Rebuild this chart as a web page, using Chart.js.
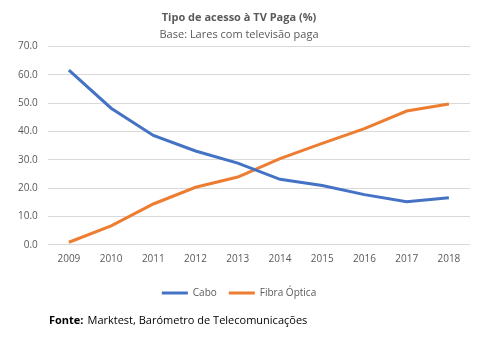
<!DOCTYPE html>
<html>
<head>
<meta charset="utf-8">
<script src="https://cdn.jsdelivr.net/npm/chart.js@4"></script>
<style>
  body { margin: 0; background: #fff; }
</style>
</head>
<body>
<canvas id="grafico" width="480" height="348"></canvas>
<script>
// dados
const anos = ["2009", "2010", "2011", "2012", "2013", "2014", "2015", "2016", "2017", "2018"];
const cabo = [61.6, 48.2, 38.6, 33.1, 28.8, 23.1, 20.9, 17.7, 15.2, 16.6];
const fibra = [0.9, 6.7, 14.4, 20.3, 23.9, 30.4, 35.8, 41.0, 47.2, 49.7];
const tituloTexto = "Tipo de acesso à TV Paga (%)";
const subtitulo = "Base: Lares com televisão paga";

const fonte = "'Open Sans', 'Liberation Sans', sans-serif";
const cinza = "#595959";

// rodapé "Fonte: ..."
const rodape = {
  id: "rodape",
  afterDraw(chart) {
    const c = chart.ctx;
    c.save();
    c.fillStyle = "#000";
    c.textBaseline = "middle";
    c.font = "bold 11px " + fonte;
    c.fillText("Fonte:", 49, 321);
    const w = c.measureText("Fonte:").width;
    c.font = "11px " + fonte;
    c.fillText("Marktest, Barómetro de Telecomunicações", 49 + w + 4, 321);
    c.restore();
  }
};

new Chart(document.getElementById("grafico"), {
  type: "line",
  data: {
    labels: anos,
    datasets: [
      { label: "Cabo", data: cabo, borderColor: "#4472c4", backgroundColor: "#4472c4", borderWidth: 3, pointRadius: 0, tension: 0 },
      { label: "Fibra Óptica", data: fibra, borderColor: "#ed7d31", backgroundColor: "#ed7d31", borderWidth: 3, pointRadius: 0, tension: 0 }
    ]
  },
  options: {
    responsive: false,
    animation: false,
    layout: { padding: { left: 8, right: 10, top: 5, bottom: 40 } },
    plugins: {
      title: { display: true, text: tituloTexto, color: cinza, font: { family: fonte, size: 11, weight: "bold" }, padding: { top: 6, bottom: 4 } },
      subtitle: { display: true, text: subtitulo, color: cinza, font: { family: fonte, size: 11 }, padding: { bottom: 5 } },
      legend: {
        position: "bottom",
        labels: {
          color: cinza, font: { family: fonte, size: 10 },
          boxWidth: 26, boxHeight: 3, padding: 12,
          generateLabels(chart) {
            return chart.data.datasets.map((d, i) => ({
              text: d.label, fillStyle: d.borderColor, strokeStyle: d.borderColor,
              lineWidth: 0, fontColor: cinza, datasetIndex: i
            }));
          }
        }
      },
      tooltip: { enabled: false }
    },
    scales: {
      x: {
        offset: true,
        grid: { display: false },
        border: { display: false },
        ticks: { color: cinza, font: { family: fonte, size: 10 }, padding: 0 },
        // espaço vazio entre os anos e a legenda
        title: { display: true, text: " ", font: { size: 1 }, padding: { top: 0, bottom: 10 } }
      },
      y: {
        min: 0, max: 70,
        ticks: { stepSize: 10, color: cinza, font: { family: fonte, size: 10 }, padding: 10, callback: v => v.toFixed(1) },
        grid: { color: "#d9d9d9", drawTicks: false },
        border: { display: false }
      }
    }
  },
  plugins: [rodape]
});
</script>
</body>
</html>
